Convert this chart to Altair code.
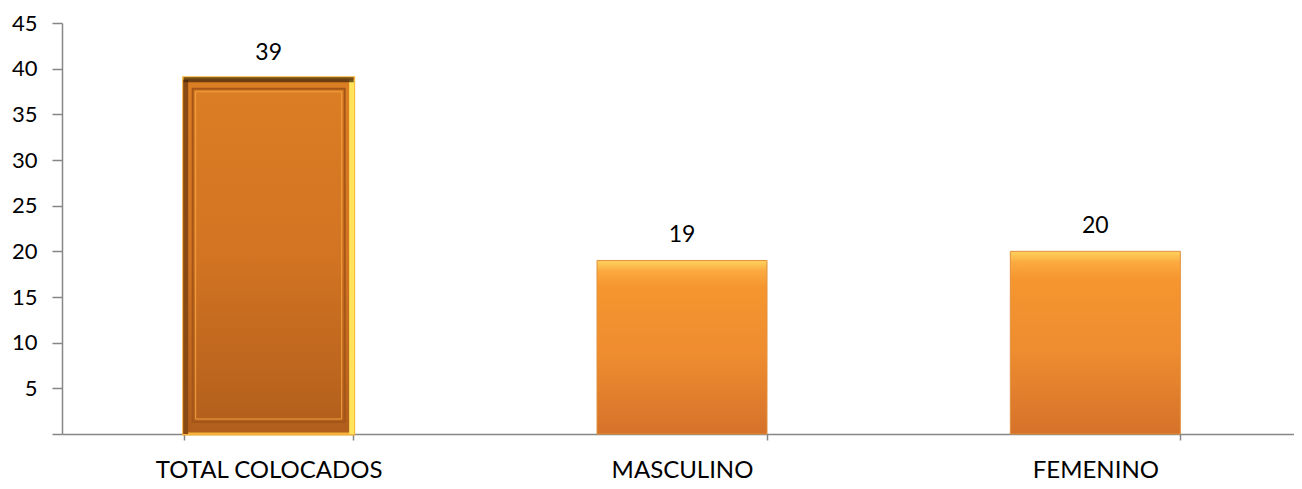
import altair as alt
import pandas as pd

categories = ["TOTAL COLOCADOS", "MASCULINO", "FEMENINO"]
values = [39, 19, 20]
y_ticks = [0, 5, 10, 15, 20, 25, 30, 35, 40, 45]

df = pd.DataFrame({"cat": categories, "val": values})

FONT = "Lato"
AX = "#868686"

x_enc = alt.X("cat:N", sort=categories, title=None,
              scale=alt.Scale(paddingInner=0.59, paddingOuter=0.295, range=[0, 1240]),
              axis=alt.Axis(labelAngle=0, labelFontSize=24, labelFont=FONT, labelColor="#000000",
                            labelPadding=18, labelLimit=0, tickBand="extent", tickSize=6, tickColor=AX,
                            domainColor=AX, domainWidth=1.5, tickWidth=1.5, grid=False))
y_enc = alt.Y("val:Q", title=None,
              scale=alt.Scale(domain=[0, 45], nice=False),
              axis=alt.Axis(values=y_ticks, labelExpr="datum.value == 0 ? '' : datum.label",
                            labelFontSize=22, labelFont=FONT, labelColor="#000000",
                            labelPadding=15, tickSize=10, tickColor=AX, domainColor=AX,
                            domainWidth=1.5, tickWidth=1.5, grid=False))

base = alt.Chart(df).encode(x=x_enc, y=y_enc)
base2 = alt.Chart(df).encode(x=x_enc, y=y_enc, y2=alt.datum(0))

grad_total = alt.Gradient(gradient="linear", x1=0, y1=0, x2=0, y2=1,
                          stops=[alt.GradientStop(color="#DC7E24", offset=0),
                                 alt.GradientStop(color="#D27422", offset=0.5),
                                 alt.GradientStop(color="#B15E1C", offset=1)])
grad_other = alt.Gradient(gradient="linear", x1=0, y1=0, x2=0, y2=1,
                          stops=[alt.GradientStop(color="#FFD35F", offset=0),
                                 alt.GradientStop(color="#FBAA40", offset=0.06),
                                 alt.GradientStop(color="#F5962F", offset=0.15),
                                 alt.GradientStop(color="#EE8C30", offset=0.55),
                                 alt.GradientStop(color="#D5722A", offset=1)])

is_total = alt.datum.cat == "TOTAL COLOCADOS"

total_bar = base.mark_bar(size=170, fill=grad_total, stroke="#F8B43A", strokeWidth=3).transform_filter(is_total)
total_top = base.mark_tick(size=170, thickness=5, color="#3A2208", yOffset=2).transform_filter(is_total)
total_right = base2.mark_bar(size=5, xOffset=83, fill="#FFE45C", yOffset=2).transform_filter(is_total)
total_left = base2.mark_bar(size=5, xOffset=-83, fill="#8A4A15", yOffset=2).transform_filter(is_total)
total_inner = base2.mark_bar(size=152, yOffset=11, y2Offset=-12, fillOpacity=0,
                             stroke="#A35617", strokeWidth=2).transform_filter(is_total)
total_inner2 = base2.mark_bar(size=146, yOffset=14, y2Offset=-15, fillOpacity=0,
                              stroke="#F0A040", strokeWidth=1).transform_filter(is_total)

other_bar = base.mark_bar(size=170, fill=grad_other, stroke="#E3903E", strokeWidth=1).transform_filter(~is_total)

labels = base.mark_text(baseline="bottom", dy=-13, fontSize=23, font=FONT, color="#000000").encode(
    text=alt.Text("val:Q"))

chart = alt.layer(total_bar, total_inner, total_inner2, total_left, total_right, total_top,
                  other_bar, labels).properties(
    width=1232, height=411,
    padding={"left": 54, "top": 15, "right": 0, "bottom": 50},
    autosize=alt.AutoSizeParams(type="none"),
    background="white",
).configure_view(stroke=None)

chart.save("out.html", embed_options={"renderer": "svg", "actions": False})
